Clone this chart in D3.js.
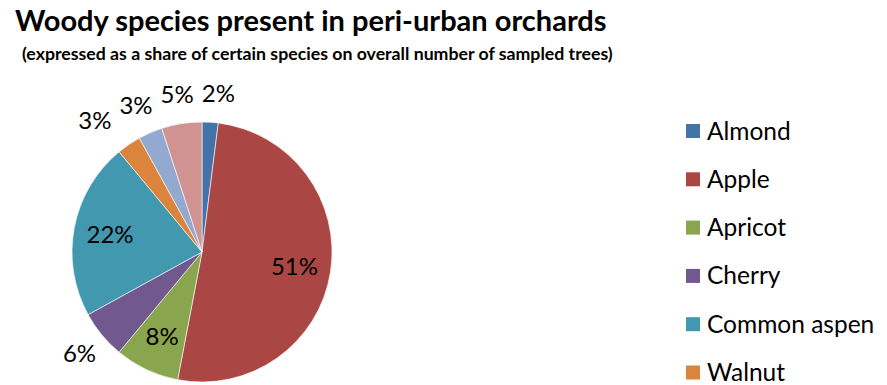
<!DOCTYPE html>
<html>
<head>
<meta charset="utf-8">
<script src="https://cdn.jsdelivr.net/npm/d3@7"></script>
<style>
  html, body { margin: 0; padding: 0; background: #fff; }
  svg { display: block; font-family: Lato, "Open Sans", "Liberation Sans", sans-serif; }
</style>
</head>
<body>
<svg id="chart" width="887" height="385"></svg>
<script>
// Share of each woody species among all sampled trees (%)
const categories = ["Almond", "Apple", "Apricot", "Cherry", "Common aspen", "Walnut", "Other species A", "Other species B"];
const shares = [2, 51, 8, 6, 22, 3, 3, 5];
const colors = ["#4572A7", "#AA4643", "#89A54E", "#71588F", "#4198AF", "#DB843D", "#93A9CF", "#D19392"];
// Labels that sit inside their slice; the rest are placed outside the rim
const insideLabels = ["Apple", "Apricot", "Common aspen"];

const titleText = "Woody species present in peri-urban orchards";
const subtitleText = "(expressed as a share of certain species on overall number of sampled trees)";

const svg = d3.select("#chart");

// Fit a text element to a target width by adjusting its font size
function fitWidth(sel, target) {
  const fs = parseFloat(sel.attr("font-size"));
  const w = sel.node().getComputedTextLength();
  sel.attr("font-size", fs * target / w);
}

const title = svg.append("text")
  .attr("x", 15).attr("y", 31)
  .attr("font-size", 27).attr("font-weight", 700).attr("fill", "#000")
  .text(titleText);
fitWidth(title, 592);

const subtitle = svg.append("text")
  .attr("x", 22).attr("y", 60)
  .attr("font-size", 14).attr("font-weight", 700).attr("fill", "#000")
  .text(subtitleText);
fitWidth(subtitle, 591);

// Pie
const cx = 202, cy = 252, radius = 130;
const data = categories.map((c, i) => ({ name: c, value: shares[i], color: colors[i] }));

const pie = d3.pie().value(d => d.value).sort(null);
const arcs = pie(data);
const arc = d3.arc().innerRadius(0).outerRadius(radius);
const innerLabelArc = d3.arc().innerRadius(radius * 0.72).outerRadius(radius * 0.72);
const outerLabelArc = d3.arc().innerRadius(radius + 29).outerRadius(radius + 29);

const g = svg.append("g").attr("transform", `translate(${cx},${cy})`);

g.selectAll("path.slice")
  .data(arcs)
  .join("path")
  .attr("class", "slice")
  .attr("d", arc)
  .attr("fill", d => d.data.color)
  .attr("stroke", "#fff")
  .attr("stroke-width", 0.6);

const labels = g.selectAll("text.pct")
  .data(arcs)
  .join("text")
  .attr("class", "pct")
  .attr("text-anchor", "middle")
  .attr("dy", "0.35em")
  .attr("font-size", 24)
  .attr("fill", "#000")
  .text(d => d.data.value + "%");

// Inside labels at a fixed fraction of the radius
labels.filter(d => insideLabels.includes(d.data.name))
  .attr("transform", d => {
    const p = innerLabelArc.centroid(d);
    return `translate(${p[0]},${p[1]})`;
  });

// Outside labels: start just beyond the rim, slide sideways away from any neighbour they crowd
const gap = 8;
const placed = [];
const outside = labels.filter(d => !insideLabels.includes(d.data.name)).nodes()
  .sort((a, b) => d3.select(b).datum().index - d3.select(a).datum().index);
outside.forEach(node => {
  const d = d3.select(node).datum();
  let [x, y] = outerLabelArc.centroid(d);
  const bb = node.getBBox();
  const w = bb.width, h = bb.height * 0.7;
  placed.forEach(p => {
    const need = (p.w + w) / 2 + gap;
    if (Math.abs(p.y - y) < (p.h + h) / 2 && Math.abs(p.x - x) < need) {
      x = p.x + Math.sign(x - p.x || 1) * need;
    }
  });
  placed.push({ x, y, w, h });
  d3.select(node).attr("transform", `translate(${x},${y})`);
});

// Legend
const legend = svg.append("g").attr("transform", "translate(686,131)");
const rowGap = 48.3;
const rows = legend.selectAll("g.item")
  .data(data)
  .join("g")
  .attr("class", "item")
  .attr("transform", (d, i) => `translate(0,${i * rowGap})`);

rows.append("rect")
  .attr("x", 0).attr("y", -7)
  .attr("width", 14).attr("height", 14)
  .attr("fill", d => d.color);

rows.append("text")
  .attr("x", 21).attr("y", 0)
  .attr("dy", "0.35em")
  .attr("font-size", 24.5)
  .attr("fill", "#000")
  .text(d => d.name);
</script>
</body>
</html>
